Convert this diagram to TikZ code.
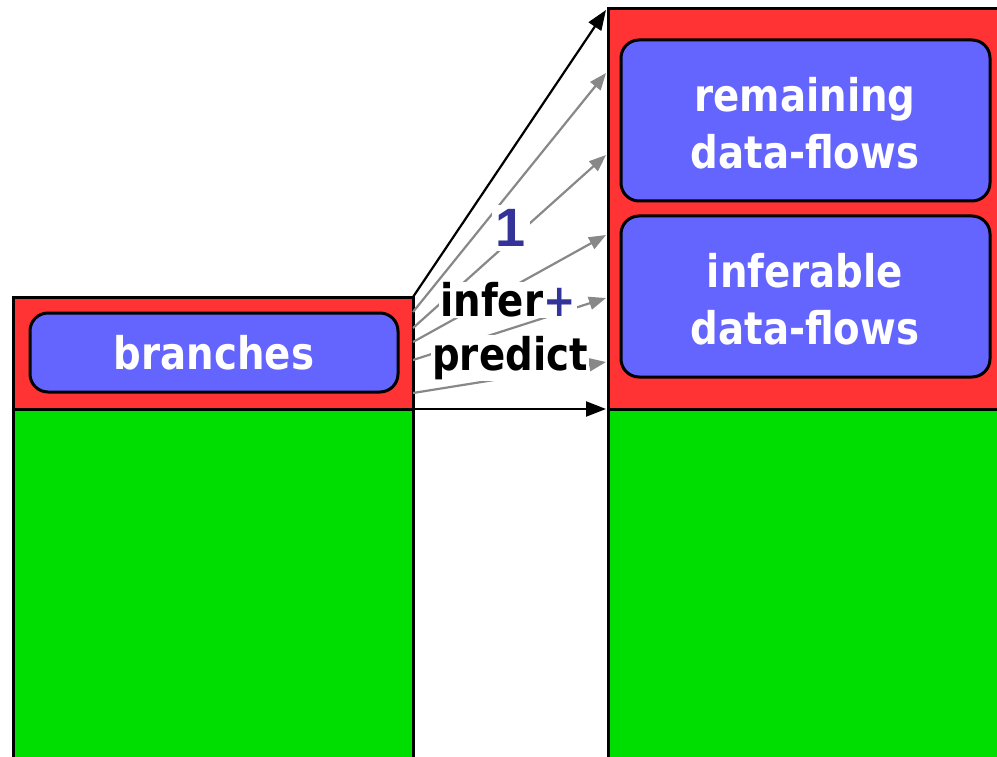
\documentclass[tikz,border=0pt]{standalone}
\usepackage{fontspec}
\setmainfont{DejaVu Sans}[FakeStretch=0.86]
\newfontfamily\onefont{Liberation Sans}
\usetikzlibrary{arrows.meta}
\definecolor{cred}{HTML}{FF3333}
\definecolor{cblue}{HTML}{6464FF}
\definecolor{cgreen}{HTML}{00DD00}
\definecolor{cnum}{HTML}{333399}
\definecolor{cgray}{HTML}{888888}
\begin{document}
\begin{tikzpicture}[x=1pt,y=-1pt,
  col/.style={draw=black,line width=3pt},
  box/.style={draw=black,line width=3pt,fill=cblue,rounded corners=18pt},
  wtext/.style={text=white,font=\bfseries\fontsize{45}{57}\selectfont,align=center,inner sep=0pt},
  btext/.style={text=black,font=\bfseries\fontsize{45}{57}\selectfont,fill=white,inner sep=1pt},
  blk/.style={draw=black,line width=2.2pt,-{Triangle[length=20pt,width=15pt]}},
  gry/.style={draw=cgray,line width=2.2pt,-{Triangle[length=17pt,width=13pt]}}]
\useasboundingbox (0,0) rectangle (997,757);
% columns
\draw[col,fill=cgreen] (13,409) rectangle (413,765);
\draw[col,fill=cred] (13,297) rectangle (413,409);
\draw[col,fill=cgreen] (608,409) rectangle (1002,765);
\draw[col,fill=cred] (608,9) rectangle (1002,409);
% inner boxes
\draw[box] (30,313) rectangle (398,392);
\draw[box] (621,40) rectangle (990,201);
\draw[box] (621,216) rectangle (990,377);
\node[wtext] (br) at (214,353) {branches};
\node[wtext] (rem) at (805,123) {remaining\\data-flows};
\node[wtext] (inf) at (805,299) {inferable\\data-flows};
% connector end points
\coordinate (a0) at (413,297);
\coordinate (b0) at (606,10);
\coordinate (a1) at (413,312);
\coordinate (b1) at (606,73);
\coordinate (a2) at (413,328);
\coordinate (b2) at (606,155);
\coordinate (a3) at (413,342);
\coordinate (b3) at (606,235);
\coordinate (a4) at (413,360);
\coordinate (b4) at (606,298);
\coordinate (a5) at (413,393);
\coordinate (b5) at (606,362);
\coordinate (a6) at (413,409);
\coordinate (b6) at (606,409);
\draw[gry] (a1) -- (b1);
\draw[gry] (a2) -- (b2);
\draw[gry] (a3) -- (b3);
\draw[gry] (a4) -- (b4);
\draw[gry] (a5) -- (b5);
\draw[blk] (a0) -- (b0);
\draw[blk] (a6) -- (b6);
% labels
\node[fill=white,inner sep=4pt,text=cnum,font=\onefont\bfseries\fontsize{54}{54}\selectfont] (one) at (511,228) {1};
\node[btext] (inf1) at (508,300) {infer\textcolor{cnum}{+}};
\node[btext] (pred) at (510,358) {predict};
\end{tikzpicture}
\end{document}
